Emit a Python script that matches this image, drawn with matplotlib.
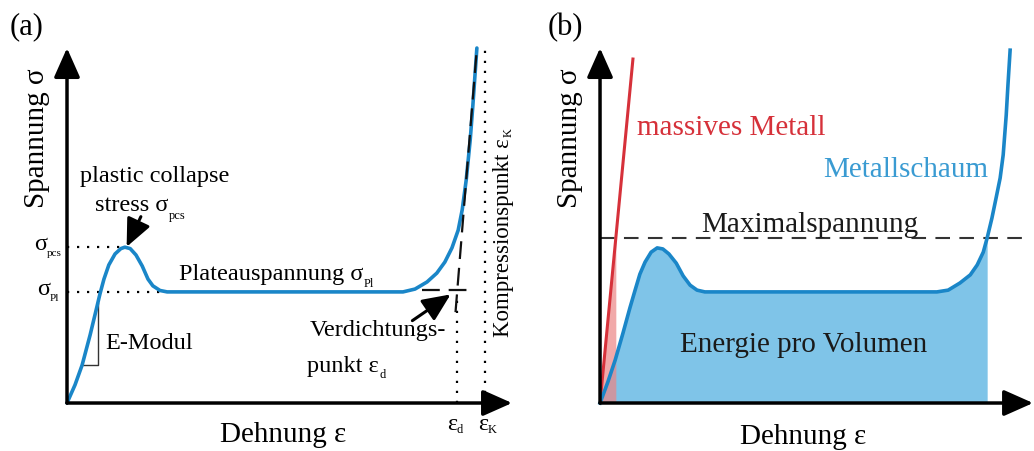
import matplotlib
matplotlib.use('Agg')
import matplotlib.pyplot as plt
import numpy as np

plt.rcParams['font.family'] = ['Liberation Serif', 'DejaVu Serif']

# panel (a): metal foam curve, normalised strain / stress
foam_a_strain = [0.0, 0.018, 0.034, 0.052, 0.067, 0.074, 0.083, 0.094, 0.108, 0.121,
                 0.130, 0.142, 0.155, 0.169, 0.182, 0.193, 0.209, 0.225, 0.755, 0.782,
                 0.809, 0.831, 0.849, 0.865, 0.879, 0.888, 0.897, 0.906, 0.912, 0.921]
foam_a_stress = [0.0, 0.051, 0.107, 0.192, 0.270, 0.307, 0.349, 0.389, 0.420, 0.435,
                 0.439, 0.435, 0.417, 0.386, 0.349, 0.330, 0.317, 0.313, 0.313, 0.321,
                 0.341, 0.366, 0.397, 0.437, 0.487, 0.544, 0.628, 0.741, 0.839, 1.0]
sigma_pcs = 0.439
sigma_pl = 0.313
eps_pcs = 0.130
eps_plateau = 0.225
eps_d = 0.876
eps_k = 0.939
tangent_strain = [0.873, 0.921]
tangent_stress = [0.256, 1.0]
modul_strain = [0.034, 0.070, 0.070]
modul_stress = [0.107, 0.107, 0.282]

# panel (b): metal foam vs. solid metal
foam_b_strain = [0.0, 0.018, 0.035, 0.053, 0.069, 0.081, 0.092, 0.104, 0.118, 0.132,
                 0.145, 0.159, 0.176, 0.192, 0.208, 0.224, 0.242, 0.778, 0.804, 0.831,
                 0.855, 0.871, 0.885, 0.894, 0.905, 0.915, 0.924, 0.931, 0.938, 0.942, 0.947]
foam_b_stress = [0.0, 0.059, 0.121, 0.197, 0.268, 0.318, 0.363, 0.397, 0.425, 0.437,
                 0.434, 0.420, 0.394, 0.358, 0.332, 0.318, 0.313, 0.313, 0.318, 0.338,
                 0.361, 0.389, 0.425, 0.465, 0.521, 0.580, 0.634, 0.699, 0.811, 0.896, 0.994]
metal_strain = [0.0, 0.076]
metal_stress = [0.0, 0.969]
sigma_max = 0.465
eps_fill = 0.894

curve_blue = '#1a86c8'
fill_blue = '#7fc4e8'
metal_red = '#d6313a'
red_fill = '#ec8585'
label_blue = '#3a9bd2'

fig = plt.figure(figsize=(10.34, 4.51), dpi=100)
ax1 = fig.add_axes([0.0648, 0.1064, 0.4304, 0.7871])
ax2 = fig.add_axes([0.5803, 0.1064, 0.4188, 0.7871])

for ax in (ax1, ax2):
    ax.set_xlim(0, 1)
    ax.set_ylim(0, 1)
    ax.axis('off')
    # axis arrows
    for tip in [(0, 1), (1, 0)]:
        ax.annotate('', xy=tip, xytext=(0, 0), annotation_clip=False,
                    arrowprops=dict(arrowstyle='-|>,head_length=0.9,head_width=0.4',
                                    mutation_scale=20, lw=2.5, color='black',
                                    shrinkA=0, shrinkB=0))

big = 21
mid = 17.5
sub = 9
pointer = dict(arrowstyle='-|>,head_length=0.85,head_width=0.38',
               mutation_scale=20, lw=2.2, color='black', shrinkA=0, shrinkB=0)

# ---------------- (a) ----------------
dots = (0, (1, 3.5))
ax1.plot([0, eps_pcs], [sigma_pcs, sigma_pcs], color='black', lw=1.6, ls=dots, clip_on=False)
ax1.plot([0, eps_plateau], [sigma_pl, sigma_pl], color='black', lw=1.6, ls=dots, clip_on=False)
ax1.plot([eps_d, eps_d], [0, 0.29], color='black', lw=1.6, ls=dots, clip_on=False)
ax1.plot([eps_k, eps_k], [0, 1.0], color='black', lw=1.6, ls=dots, clip_on=False)
ax1.plot(modul_strain, modul_stress, color='#333333', lw=1.0)

ax1.plot(foam_a_strain, foam_a_stress, color=curve_blue, lw=2.6, clip_on=False,
         solid_capstyle='round')
ax1.plot(tangent_strain, tangent_stress, color='#111111', lw=1.6, ls=(0, (8, 4)), clip_on=False)
ax1.plot([0.798, 0.910], [sigma_pl + 0.005, sigma_pl + 0.005], color='#111111', lw=1.6,
         ls=(0, (8, 4)))

ax1.annotate('', xy=(0.134, 0.440), xytext=(0.166, 0.525), arrowprops=pointer)
ax1.annotate('', xy=(0.862, 0.306), xytext=(0.776, 0.232), arrowprops=pointer)

ax1.text(-0.09, 1.059, '(a)', fontsize=22, ha='center', va='center')
ax1.text(-0.067, 0.746, 'Spannung σ', fontsize=big, rotation=90, ha='center', va='center')
ax1.text(0.485, -0.09, 'Dehnung ε', fontsize=big, ha='center', va='center')

ax1.text(-0.045, 0.447, 'σ', fontsize=mid, ha='right', va='center')
ax1.text(-0.045, 0.420, 'pcs', fontsize=sub - 1, ha='left', va='center')
ax1.text(-0.038, 0.320, 'σ', fontsize=mid, ha='right', va='center')
ax1.text(-0.038, 0.295, 'Pl', fontsize=sub - 1, ha='left', va='center')

ax1.text(0.198, 0.637, 'plastic collapse', fontsize=mid, ha='center', va='center')
ax1.text(0.227, 0.555, 'stress σ', fontsize=mid, ha='right', va='center')
ax1.text(0.229, 0.527, 'pcs', fontsize=sub, ha='left', va='center')

ax1.text(0.665, 0.362, 'Plateauspannung σ', fontsize=mid, ha='right', va='center')
ax1.text(0.667, 0.335, 'Pl', fontsize=sub, ha='left', va='center')

ax1.text(0.085, 0.169, 'E-Modul', fontsize=mid, ha='left', va='center')

ax1.text(0.546, 0.205, 'Verdichtungs-', fontsize=mid, ha='left', va='center')
ax1.text(0.701, 0.104, 'punkt ε', fontsize=mid, ha='right', va='center')
ax1.text(0.703, 0.080, 'd', fontsize=sub, ha='left', va='center')

ax1.text(0.980, 0.745, 'Kompressionspunkt ε', fontsize=16.5, rotation=90,
         ha='center', va='top')
ax1.text(0.993, 0.762, 'K', fontsize=sub, rotation=90, ha='center', va='center')

ax1.text(0.866, -0.06, 'ε', fontsize=mid, ha='center', va='center')
ax1.text(0.882, -0.075, 'd', fontsize=sub, ha='center', va='center')
ax1.text(0.936, -0.06, 'ε', fontsize=mid, ha='center', va='center')
ax1.text(0.955, -0.075, 'K', fontsize=sub, ha='center', va='center')

# ---------------- (b) ----------------
fs = np.array(foam_b_strain)
fy = np.array(foam_b_stress)
mask = fs <= eps_fill + 1e-9
ax2.fill_between(fs[mask], fy[mask], 0, color=fill_blue, lw=0)
eps_red = metal_strain[1] * sigma_max / metal_stress[1]
ax2.fill_between([0, eps_red], [0, sigma_max], 0, color=red_fill, alpha=0.7, lw=0)

ax2.plot([0, 0.986], [sigma_max, sigma_max], color='#333333', lw=1.5, ls=(0, (7, 4.5)),
         clip_on=False)
ax2.plot(metal_strain, metal_stress, color=metal_red, lw=2.2)
ax2.plot(foam_b_strain, foam_b_stress, color=curve_blue, lw=2.6, clip_on=False)

ax2.text(-0.081, 1.059, '(b)', fontsize=22, ha='center', va='center')
ax2.text(-0.069, 0.746, 'Spannung σ', fontsize=big, rotation=90, ha='center', va='center')
ax2.text(0.469, -0.096, 'Dehnung ε', fontsize=big, ha='center', va='center')

ax2.text(0.085, 0.775, 'massives Metall', fontsize=big, color=metal_red, ha='left', va='center')
ax2.text(0.515, 0.656, 'Metallschaum', fontsize=big, color=label_blue, ha='left', va='center')
ax2.text(0.485, 0.482, 'Maximalspannung', fontsize=big, ha='center', va='baseline',
         color='#1a1a1a')
ax2.text(0.469, 0.163, 'Energie pro Volumen', fontsize=big, ha='center', va='center',
         color='#1a1a1a')

fig.savefig('out.png', dpi=100)
